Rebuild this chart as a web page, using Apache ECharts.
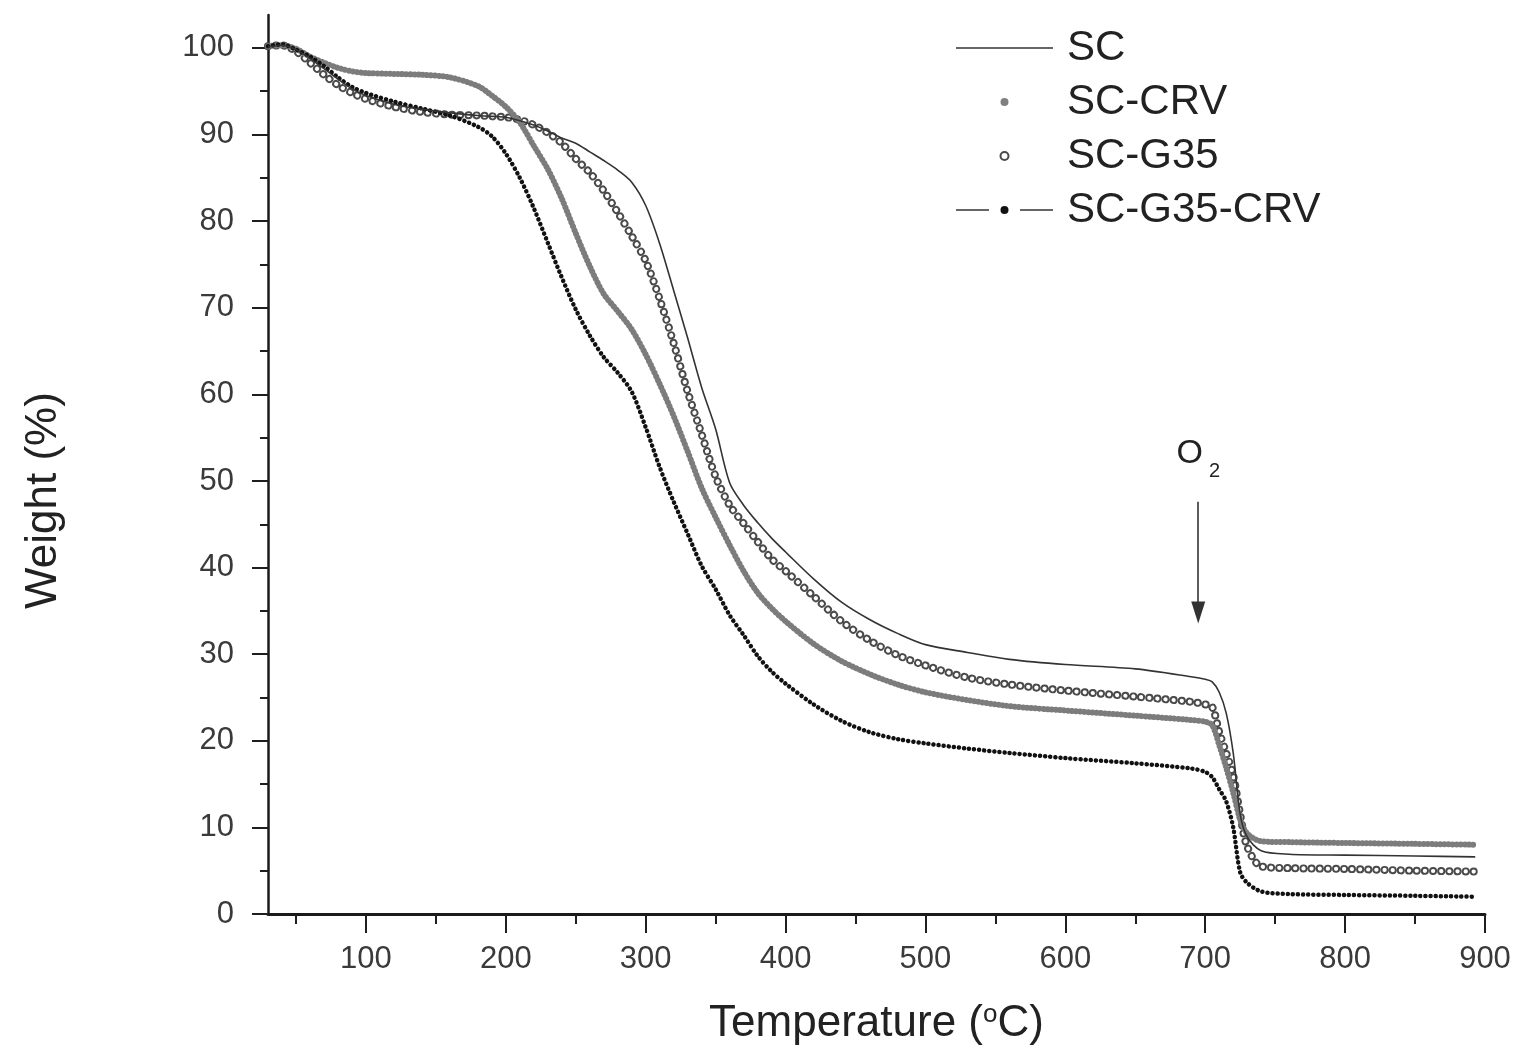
<!DOCTYPE html>
<html>
<head>
<meta charset="utf-8">
<script src="https://cdn.jsdelivr.net/npm/echarts@6/dist/echarts.min.js"></script>
<style>
html,body{margin:0;padding:0;background:#fff;}
#chart{width:1521px;height:1055px;}
</style>
</head>
<body>
<div id="chart"></div>
<script>
// Temperature (°C) sampling points shared by all series
const temps = [30,40,50,60,70,80,90,100,120,140,160,180,190,200,210,220,230,240,250,260,270,280,290,300,310,320,330,340,350,360,370,380,390,400,420,440,460,480,500,530,560,600,650,690,700,705,710,715,720,725,730,740,760,800,850,893];

// Weight (%) values
const scW = [100.1,100.3,99.8,98.8,97.6,96.4,95.3,94.5,93.5,92.9,92.5,92.2,92.1,92.0,91.6,91.1,90.4,89.6,89.0,88.0,87.0,85.9,84.5,81.8,77.4,72.0,66.5,60.8,56.0,49.8,47.2,45.2,43.4,41.8,38.7,36.0,34.0,32.4,31.1,30.2,29.4,28.8,28.3,27.4,27.1,26.8,25.6,23.2,18.6,11.5,8.9,7.3,6.9,6.8,6.7,6.6];
const scCrvW = [100.2,100.3,99.9,99.0,98.3,97.7,97.3,97.1,97.0,96.9,96.6,95.6,94.5,93.2,91.4,88.7,86.0,82.6,78.6,74.8,71.6,69.6,67.5,64.6,61.2,57.5,53.4,49.2,45.8,42.6,39.6,37.1,35.3,33.8,31.2,29.2,27.7,26.5,25.6,24.7,24.0,23.5,22.9,22.4,22.2,21.8,19.5,16.9,14.0,10.9,9.3,8.4,8.3,8.2,8.1,8.0];
const scG35W = [100.2,100.3,99.6,98.3,96.9,95.7,94.8,94.1,93.2,92.6,92.3,92.2,92.1,92.0,91.7,91.1,90.2,89.0,87.2,85.6,83.5,81.0,78.3,75.4,71.0,65.9,60.3,55.4,50.5,47.2,45.1,43.0,41.0,39.6,36.7,33.8,31.6,29.9,28.7,27.3,26.5,25.8,25.1,24.5,24.2,23.9,21.0,18.6,16.0,11.5,7.8,5.5,5.3,5.2,5.0,4.9];
const scG35CrvW = [100.2,100.4,99.8,99.0,97.9,96.6,95.5,94.8,93.8,93.0,92.2,90.9,89.8,87.8,85.0,81.5,77.5,73.5,69.8,66.8,64.3,62.5,60.3,56.2,51.6,47.6,43.9,40.2,37.5,34.5,32.2,29.8,28.0,26.6,24.2,22.3,21.0,20.2,19.7,19.1,18.6,18.0,17.4,16.8,16.4,15.8,14.4,13.0,10.0,4.8,3.6,2.6,2.3,2.2,2.1,2.0];

// Axis ticks
const xMajorTicks = [100,200,300,400,500,600,700,800,900];
const xMinorTicks = [50,150,250,350,450,550,650,750,850];
const yMajorTicks = [0,10,20,30,40,50,60,70,80,90,100];
const yMinorTicks = [5,15,25,35,45,55,65,75,85,95];

// Annotation (O2 switch)
const o2Label = {temp: 695, weight: 53.2};
const o2Arrow = {temp: 695, from: 47.6, to: 34.8};

const FONT = '"Liberation Sans", Arial, Helvetica, sans-serif';
const pairs = (ys) => temps.map((t, i) => [t, ys[i]]);

const chart = echarts.init(document.getElementById('chart'), null, {renderer: 'canvas'});

const tickStyle = {color: '#1e1e1e', width: 2};
const option = {
  animation: false,
  backgroundColor: '#fff',
  grid: {left: 268, right: 36, top: 15, bottom: 141, containLabel: false, outerBoundsMode: 'none'},
  legend: {
    orient: 'vertical',
    left: 950,
    top: 22,
    itemWidth: 97,
    itemHeight: 10,
    itemGap: 12,
    selectedMode: false,
    textStyle: {fontSize: 42, color: '#222', fontFamily: FONT, lineHeight: 42, padding: [0, 0, 0, 9]},
    data: [
      {name: 'SC', itemStyle: {opacity: 0}, lineStyle: {color: '#333', width: 1.6, type: 'solid', cap: 'butt', opacity: 1}},
      {name: 'SC-CRV', lineStyle: {opacity: 0}},
      {name: 'SC-G35', lineStyle: {opacity: 0}},
      {name: 'SC-G35-CRV', lineStyle: {color: '#666', width: 2, type: [33, 31], cap: 'butt', opacity: 1}}
    ]
  },
  xAxis: [
    {
      type: 'value', min: 30, max: 900, position: 'bottom',
      axisLine: {onZero: false, lineStyle: {color: '#1a1a1a', width: 3}},
      axisTick: {show: true, customValues: xMajorTicks, length: 19, lineStyle: tickStyle},
      axisLabel: {customValues: xMajorTicks, margin: 30, fontSize: 31, color: '#3a3a3a', fontFamily: FONT},
      splitLine: {show: false},
      name: 'Temperature ({s|o}C)',
      nameLocation: 'middle',
      nameGap: 88,
      nameTextStyle: {fontSize: 44, color: '#222', fontFamily: FONT,
        rich: {s: {fontSize: 26, color: '#222', fontFamily: FONT, padding: [0, 0, 18, 0]}}}
    },
    {
      type: 'value', min: 30, max: 900, position: 'bottom',
      axisLine: {show: false, onZero: false},
      axisTick: {show: true, customValues: xMinorTicks, length: 10, lineStyle: tickStyle},
      axisLabel: {show: false},
      splitLine: {show: false}
    }
  ],
  yAxis: [
    {
      type: 'value', min: 0, max: 103.8, position: 'left',
      axisLine: {show: true, onZero: false, lineStyle: {color: '#1a1a1a', width: 2.5}},
      axisTick: {show: true, customValues: yMajorTicks, length: 16, lineStyle: tickStyle},
      axisLabel: {customValues: yMajorTicks, margin: 34, fontSize: 31, color: '#3a3a3a', fontFamily: FONT},
      splitLine: {show: false},
      name: 'Weight (%)',
      nameLocation: 'middle',
      nameGap: 202,
      nameTextStyle: {fontSize: 44, color: '#222', fontFamily: FONT, padding: [0, 72, 0, 0]}
    },
    {
      type: 'value', min: 0, max: 103.8, position: 'left',
      axisLine: {show: false, onZero: false},
      axisTick: {show: true, customValues: yMinorTicks, length: 8, lineStyle: tickStyle},
      axisLabel: {show: false},
      splitLine: {show: false}
    }
  ],
  series: [
    {
      name: 'SC-G35', type: 'line', data: pairs(scG35W), smooth: 0.3, silent: true,
      symbol: 'emptyCircle', showSymbol: false,
      itemStyle: {color: '#4a4a4a'},
      lineStyle: {color: '#4a4a4a', width: 8, type: [0.1, 8], cap: 'round'},
      emphasis: {disabled: true}
    },
    {
      name: 'SC-G35', type: 'line', data: pairs(scG35W), smooth: 0.3, silent: true,
      symbol: 'none', showSymbol: false,
      itemStyle: {color: '#ffffff'},
      lineStyle: {color: '#ffffff', width: 4.2, type: [0.1, 8], cap: 'round'},
      emphasis: {disabled: true}
    },
    {
      name: 'SC-CRV', type: 'line', data: pairs(scCrvW), smooth: 0.3, silent: true,
      symbol: 'circle', showSymbol: false,
      itemStyle: {color: '#808080'},
      lineStyle: {color: '#7c7c7c', width: 6, type: [0.1, 4], cap: 'round'},
      emphasis: {disabled: true}
    },
    {
      name: 'SC-G35-CRV', type: 'line', data: pairs(scG35CrvW), smooth: 0.3, silent: true,
      symbol: 'circle', showSymbol: false,
      itemStyle: {color: '#111'},
      lineStyle: {color: '#111', width: 4.5, type: [0.1, 5], cap: 'round'},
      emphasis: {disabled: true}
    },
    {
      name: 'SC', type: 'line', data: pairs(scW), smooth: 0.3, silent: true,
      symbol: 'none', showSymbol: false,
      itemStyle: {color: '#333'},
      lineStyle: {color: '#333', width: 1.6, type: 'solid'},
      emphasis: {disabled: true},
      markLine: {
        silent: true, animation: false,
        symbol: ['none', 'triangle'], symbolSize: [14, 22],
        label: {show: false},
        lineStyle: {color: '#333', width: 1.6, type: 'solid'},
        itemStyle: {color: '#333'},
        emphasis: {disabled: true},
        data: [[{coord: [o2Arrow.temp, o2Arrow.from]}, {coord: [o2Arrow.temp, o2Arrow.to]}]]
      },
      markPoint: {
        silent: true, animation: false,
        symbol: 'circle', symbolSize: 1,
        itemStyle: {color: 'rgba(0,0,0,0)'},
        label: {show: true, position: 'inside', formatter: 'O{s|2}', fontSize: 34, color: '#222', fontFamily: FONT,
          rich: {s: {fontSize: 20, color: '#222', fontFamily: FONT, padding: [36, 0, 0, 6]}}},
        data: [{coord: [o2Label.temp, o2Label.weight]}]
      }
    }
  ]
};
chart.setOption(option);
</script>
</body>
</html>
